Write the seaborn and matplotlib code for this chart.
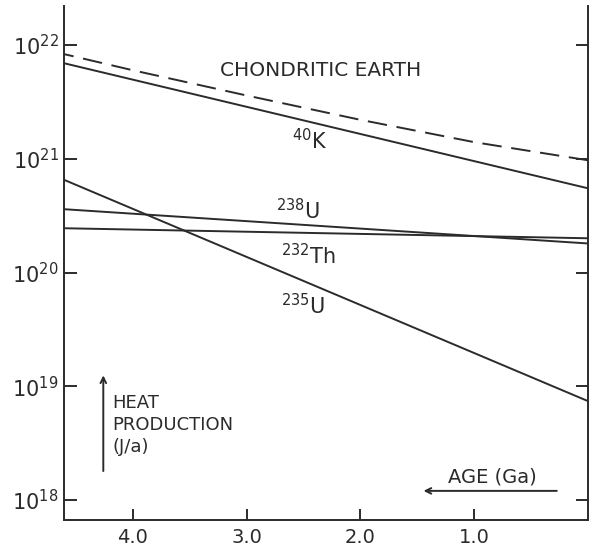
import numpy as np
import pandas as pd
import matplotlib
matplotlib.use("Agg")
import matplotlib.pyplot as plt
import seaborn as sns

# data (age in Ga, heat production in J/a)
umur_k40 = [4.6, 0.0]
nilai_k40 = [6.9e21, 5.5e20]
umur_u238 = [4.6, 0.0]
nilai_u238 = [3.6e20, 1.8e20]
umur_th232 = [4.6, 0.0]
nilai_th232 = [2.45e20, 2.0e20]
umur_u235 = [4.6, 0.0]
nilai_u235 = [6.5e20, 7.4e18]
umur_total = [4.6, 4.0, 3.0, 2.0, 1.0, 0.0]
nilai_total = [8.3e21, 6.0e21, 3.6e21, 2.2e21, 1.4e21, 9.7e20]

xticks = [4.0, 3.0, 2.0, 1.0]
xtick_labels = ['4.0', '3.0', '2.0', '1.0']
ydecades = [18, 19, 20, 21, 22]

sns.set_style("ticks")
plt.rcParams['font.family'] = ['DejaVu Sans']
plt.rcParams['mathtext.fontset'] = 'custom'
plt.rcParams['mathtext.rm'] = 'DejaVu Sans'
plt.rcParams['mathtext.default'] = 'regular'

warna = '#2b2b2b'

fig = plt.figure(figsize=(5.93, 5.48), dpi=100)
ax = fig.add_axes([0.108, 0.0511, 0.8836, 0.9379])

for umur, nilai in [(umur_k40, nilai_k40), (umur_u238, nilai_u238),
                    (umur_th232, nilai_th232), (umur_u235, nilai_u235)]:
    df = pd.DataFrame({'umur': umur, 'nilai': nilai})
    sns.lineplot(data=df, x='umur', y='nilai', ax=ax, color=warna, lw=1.4)

# total (chondritic earth) dashed
df_total = pd.DataFrame({'umur': umur_total, 'nilai': nilai_total})
sns.lineplot(data=df_total, x='umur', y='nilai', ax=ax, color=warna, lw=1.4,
             linestyle=(0, (10, 5)))

ax.set_yscale('log')
ax.set_xlim(4.605, 0.0)
ax.set_ylim(10**17.824, 10**22.343)

ax.set_yticks([10.0**d for d in ydecades])
ax.set_yticklabels([f'$10^{{{d}}}$' for d in ydecades], fontsize=15, color=warna)
ax.yaxis.set_minor_locator(matplotlib.ticker.NullLocator())
ax.set_xticks(xticks)
ax.set_xticklabels(xtick_labels, fontsize=14, color=warna)
ax.tick_params(axis='y', direction='in', length=9, width=1.4, color=warna,
               right=True, pad=4)
ax.tick_params(axis='x', direction='in', length=8, width=1.4, color=warna, pad=6)
ax.set_xlabel('')
ax.set_ylabel('')

for s in ['left', 'right', 'bottom']:
    ax.spines[s].set_color(warna)
    ax.spines[s].set_linewidth(1.4)
ax.spines['top'].set_visible(False)

# label garis
ax.text(2.35, 10**21.78, 'CHONDRITIC EARTH', fontsize=14.5, color=warna,
        ha='center', va='center')
ax.text(2.45, 10**21.16, r'$^{40}$K', fontsize=15, color=warna, ha='center', va='center')
ax.text(2.55, 10**20.54, r'$^{238}$U', fontsize=15, color=warna, ha='center', va='center')
ax.text(2.46, 10**20.15, r'$^{232}$Th', fontsize=15, color=warna, ha='center', va='center')
ax.text(2.50, 10**19.71, r'$^{235}$U', fontsize=15, color=warna, ha='center', va='center')

# keterangan sumbu dengan panah
ax.text(4.18, 10**18.66, 'HEAT\nPRODUCTION\n(J/a)', fontsize=13, color=warna,
        ha='left', va='center', linespacing=1.3)
ax.annotate('', xy=(4.26, 10**19.12), xytext=(4.26, 10**18.23),
            arrowprops=dict(arrowstyle='->', color=warna, lw=1.4))
ax.text(0.84, 10**18.20, 'AGE (Ga)', fontsize=14, color=warna, ha='center', va='center')
ax.annotate('', xy=(1.47, 10**18.08), xytext=(0.25, 10**18.08),
            arrowprops=dict(arrowstyle='->', color=warna, lw=1.4))

fig.savefig('out.png', dpi=100)
